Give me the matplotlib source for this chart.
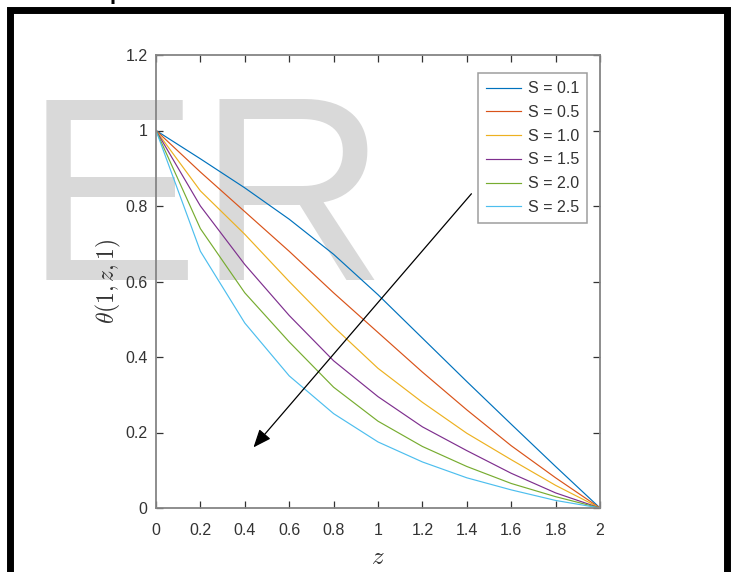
import matplotlib
matplotlib.use("Agg")
import matplotlib.pyplot as plt
from matplotlib.patches import Rectangle

plt.rcParams['font.family'] = ['Liberation Sans', 'DejaVu Sans']
plt.rcParams['mathtext.fontset'] = 'cm'

# temperature profiles theta(1, z, 1) for several S
z = [0.0, 0.2, 0.4, 0.6, 0.8, 1.0, 1.2, 1.4, 1.6, 1.8, 2.0]
theta_s01 = [1.0, 0.925, 0.848, 0.765, 0.672, 0.565, 0.45, 0.335, 0.222, 0.11, 0.0]
theta_s05 = [1.0, 0.89, 0.785, 0.68, 0.57, 0.465, 0.36, 0.26, 0.165, 0.08, 0.0]
theta_s10 = [1.0, 0.84, 0.725, 0.60, 0.48, 0.37, 0.28, 0.198, 0.128, 0.06, 0.0]
theta_s15 = [1.0, 0.80, 0.645, 0.51, 0.39, 0.295, 0.215, 0.152, 0.092, 0.04, 0.0]
theta_s20 = [1.0, 0.74, 0.57, 0.44, 0.32, 0.23, 0.163, 0.11, 0.065, 0.03, 0.0]
theta_s25 = [1.0, 0.68, 0.49, 0.35, 0.25, 0.175, 0.122, 0.08, 0.048, 0.02, 0.0]
labels = ['S = 0.1', 'S = 0.5', 'S = 1.0', 'S = 1.5', 'S = 2.0', 'S = 2.5']
colors = ['#0072BD', '#D95319', '#EDB120', '#7E2F8E', '#77AC30', '#4DBEEE']

xticks = [0, 0.2, 0.4, 0.6, 0.8, 1, 1.2, 1.4, 1.6, 1.8, 2]
xticklabels = ['0', '0.2', '0.4', '0.6', '0.8', '1', '1.2', '1.4', '1.6', '1.8', '2']
yticks = [0, 0.2, 0.4, 0.6, 0.8, 1, 1.2]
yticklabels = ['0', '0.2', '0.4', '0.6', '0.8', '1', '1.2']

fig = plt.figure(figsize=(7.34, 5.72), dpi=100)
ax = fig.add_axes([156/734, 1 - 508/572, 444/734, 453/572])
ax.patch.set_alpha(0)

# faint watermark behind the axes
fig.text(25/734, 1 - 280/572, 'ER', fontsize=188, color='#d9d9d9',
         ha='left', va='baseline', zorder=-1)

series = [theta_s01, theta_s05, theta_s10, theta_s15, theta_s20, theta_s25]
for th, lab, c in zip(series, labels, colors):
    ax.plot(z, th, color=c, lw=0.85, label=lab)

ax.set_xlim(0, 2)
ax.set_ylim(0, 1.2)
ax.set_xticks(xticks)
ax.set_xticklabels(xticklabels)
ax.set_yticks(yticks)
ax.set_yticklabels(yticklabels)

gray = '#858585'
for sp in ax.spines.values():
    sp.set_color(gray)
    sp.set_linewidth(1.3)
ax.tick_params(direction='in', length=5, width=0.9, color='#333333',
               top=True, right=True, labelsize=11.5, labelcolor='#333333')
ax.tick_params(axis='x', pad=11)
ax.tick_params(axis='y', pad=6)

ax.set_xlabel(r'$z$', fontsize=18, color='#333333', labelpad=5)
ax.set_ylabel(r'$\theta(1,z,1)$', fontsize=17, color='#333333', labelpad=2)

# arrow showing increasing S
ax.annotate('', xy=(0.431, 0.155), xytext=(1.429, 0.838),
            arrowprops=dict(arrowstyle='-|>,head_length=1.1,head_width=0.45',
                            color='black', lw=0.9))

leg = ax.legend(loc='upper right', bbox_to_anchor=(0.971, 0.960), fontsize=11.5,
                frameon=True, fancybox=False, handlelength=2.2, handletextpad=0.4,
                labelspacing=0.55, borderpad=0.5, borderaxespad=0)
leg.get_frame().set_edgecolor(gray)
leg.get_frame().set_linewidth(1.1)
for t in leg.get_texts():
    t.set_color('#333333')

# black page frame, open at the bottom
fig.patches.append(Rectangle((9.5/734, -0.2), (726.5 - 9.5)/734, 1.2 - 9.5/572,
                             transform=fig.transFigure, fill=False,
                             edgecolor='black', lw=5.0, zorder=5))
# heading text above the frame, mostly cut off
fig.text(110/734, 1 + 1/572, 'profiles', fontsize=16, fontweight='bold',
         ha='left', va='baseline')

fig.savefig('out.png', dpi=100)
